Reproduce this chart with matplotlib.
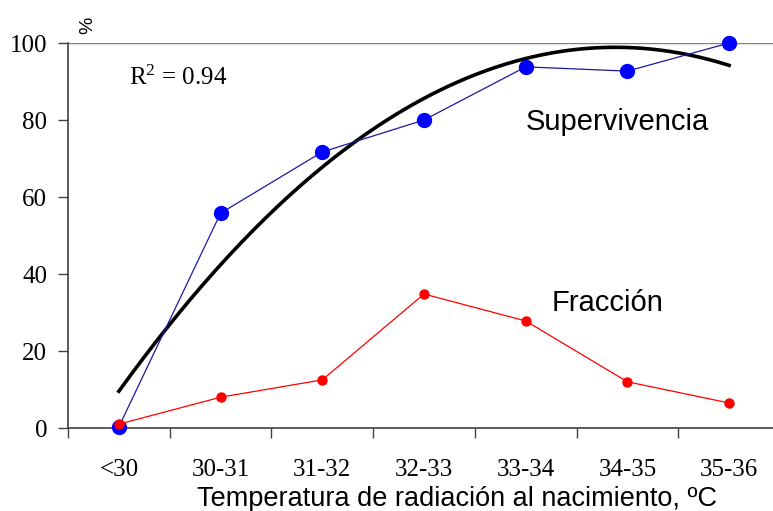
import numpy as np
import matplotlib.pyplot as plt

categories = ['<30', '30-31', '31-32', '32-33', '33-34', '34-35', '35-36']
supervivencia = [0.3, 55.8, 71.7, 80.0, 93.8, 92.7, 100.0]
fraccion = [1.0, 8.0, 12.5, 34.8, 27.8, 12.0, 6.5]

x = np.arange(len(categories))

# quadratic trend line fitted to supervivencia
coef = np.polyfit(x, supervivencia, 2)
xs = np.linspace(0, len(categories) - 1, 200)
trend = np.polyval(coef, xs)

fig = plt.figure(figsize=(7.73, 5.11), dpi=100)
# axes left at 68px, bottom at 428px, width 7 categories * 101.7px
ax = fig.add_axes([68 / 773, (511 - 428) / 511, 712 / 773, 385 / 511])

ax.axhline(100, color='#808080', lw=1, zorder=1)
ax.plot(xs, trend, color='black', lw=2.6, zorder=2)
ax.plot(x, supervivencia, color='#1a1aa0', lw=0.9, marker='o', markersize=10,
        markerfacecolor='#0000ff', markeredgecolor='#0000ff', zorder=3, clip_on=False)
ax.plot(x, fraccion, color='#ff0000', lw=0.9, marker='o', markersize=6.5,
        markerfacecolor='#ff0000', markeredgecolor='#ff0000', zorder=4, clip_on=False)

ax.set_xlim(-0.5, len(categories) - 0.5)
ax.set_ylim(0, 100)
ax.set_yticks(range(0, 101, 20))
ax.set_xticks(x)
ax.set_xticklabels(categories)
ax.set_xticks(np.arange(-0.5, len(categories), 1.0), minor=True)

serif = ['Liberation Serif', 'DejaVu Serif']
sans = ['Liberation Sans', 'DejaVu Sans']
for lab in ax.get_xticklabels() + ax.get_yticklabels():
    lab.set_family(serif)
    lab.set_fontsize(18)

ax.tick_params(axis='x', which='major', length=0, pad=22)
ax.tick_params(axis='x', which='minor', length=7, width=1, color='#404040', direction='out')
ax.tick_params(axis='y', length=7, width=1, color='#404040', direction='out', pad=8)

for s in ['top', 'right']:
    ax.spines[s].set_visible(False)
for s in ['left', 'bottom']:
    ax.spines[s].set_color('#404040')
    ax.spines[s].set_linewidth(1.2)

ax.set_xlabel('Temperatura de radiación al nacimiento, ºC', family=sans,
              fontsize=19.5, labelpad=4, x=0.546)
fig.text(88 / 773, 1 - 25 / 511, '%', rotation=90, fontsize=14, ha='center', va='center',
         family=sans)

ax.text(0.1, 91, r'$\mathregular{R^2}$ = 0.94', family=serif, fontsize=18, va='center', ha='left')
ax.text(4.0, 79.5, 'Supervivencia', family=sans, fontsize=21, va='center', ha='left')
ax.text(4.25, 32.5, 'Fracción', family=sans, fontsize=21, va='center', ha='left')

fig.savefig('out.png', dpi=100)
